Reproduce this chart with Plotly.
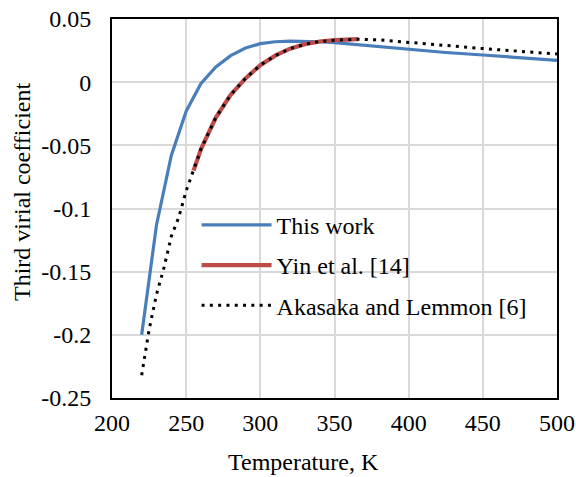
import plotly.graph_objects as go

# Temperature grid (K) and third virial coefficient values for each source
t_this_work = [220, 230, 240, 250, 260, 270, 280, 290, 300, 310, 320, 330, 340, 350,
               375, 400, 425, 450, 475, 500]
c_this_work = [-0.200, -0.113, -0.058, -0.023, -0.001, 0.012, 0.021, 0.027, 0.0305, 0.032,
               0.0325, 0.0325, 0.032, 0.0313, 0.0287, 0.0257, 0.0235, 0.0215, 0.0194, 0.0173]

t_yin = [255, 260, 270, 280, 290, 300, 310, 320, 330, 340, 350, 360, 366]
c_yin = [-0.070, -0.053, -0.028, -0.010, 0.003, 0.0135, 0.021, 0.0265, 0.030, 0.0322,
         0.0332, 0.0338, 0.034]

t_akasaka = [220, 225, 230, 235, 240, 245, 250, 255, 260, 270, 280, 290, 300, 310, 320,
             330, 340, 350, 360, 366, 380, 400, 425, 450, 475, 500]
c_akasaka = [-0.232, -0.196, -0.168, -0.147, -0.122, -0.107, -0.086, -0.070, -0.053, -0.028,
             -0.010, 0.003, 0.0135, 0.021, 0.0265, 0.030, 0.0322, 0.0332, 0.0338, 0.034,
             0.0335, 0.0314, 0.029, 0.0266, 0.0244, 0.0223]

x_ticks = [200, 250, 300, 350, 400, 450, 500]
y_ticks = [-0.25, -0.2, -0.15, -0.1, -0.05, 0, 0.05]
y_tick_text = ["-0.25", "-0.2", "-0.15", "-0.1", "-0.05", "0", "0.05"]

FONT = "Liberation Serif"

fig = go.Figure()
fig.add_trace(go.Scatter(x=t_this_work, y=c_this_work, mode="lines", name="This work",
                         legendgroup="a",
                         line=dict(color="#4A7EBB", width=3.2)))
fig.add_trace(go.Scatter(x=t_yin, y=c_yin, mode="lines", name="Yin et al. [14]",
                         legendgroup="b",
                         line=dict(color="#BE4B48", width=4.2)))
fig.add_trace(go.Scatter(x=t_akasaka, y=c_akasaka, mode="lines",
                         name="Akasaka and Lemmon [6]", legendgroup="c",
                         line=dict(color="black", width=3, dash="3px,5.3px")))

axis_common = dict(
    showgrid=True, gridcolor="#D9D9D9", gridwidth=1.5,
    showline=True, linecolor="black", linewidth=2, mirror=True,
    zeroline=False, ticks="", automargin=False,
    tickfont=dict(family=FONT, size=24, color="black"),
)

fig.update_xaxes(range=[200, 500], tickvals=x_ticks, ticklabelstandoff=2, **axis_common)
fig.update_yaxes(range=[-0.25, 0.05], tickvals=y_ticks, ticktext=y_tick_text,
                 ticklabelstandoff=14, **axis_common)

fig.update_layout(
    width=576, height=477,
    margin=dict(l=112, r=19, t=19, b=79),
    paper_bgcolor="white", plot_bgcolor="white",
    font=dict(family=FONT, color="black"),
    showlegend=True,
    legend=dict(x=0.19, y=0.515, xanchor="left", yanchor="top",
                bgcolor="rgba(0,0,0,0)", font=dict(family=FONT, size=24, color="black"),
                itemwidth=70, tracegroupgap=6),
    annotations=[
        dict(text="Temperature, K", xref="paper", yref="paper", x=(303 - 112) / 445,
             y=-0.17, xanchor="center", yanchor="middle", showarrow=False,
             font=dict(family=FONT, size=24, color="black")),
        dict(text="Third virial coefficient", xref="paper", yref="paper",
             x=(22 - 112) / 445, y=(398 - 192) / 379, xanchor="center", yanchor="middle",
             textangle=-90, showarrow=False, font=dict(family=FONT, size=24, color="black")),
    ],
)

fig.write_html("out.html")
